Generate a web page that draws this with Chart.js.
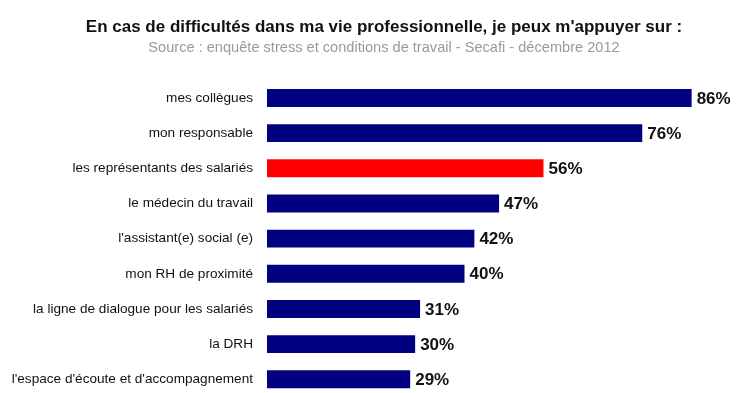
<!DOCTYPE html>
<html>
<head>
<meta charset="utf-8">
<script src="https://cdn.jsdelivr.net/npm/chart.js@4/dist/chart.umd.min.js"></script>
<style>
  html, body { margin: 0; padding: 0; background: #fff; overflow: hidden; }
  #wrap { width: 742px; height: 393px; overflow: hidden; }
  #wrap canvas { display: block; }
</style>
</head>
<body>
<div id="wrap"><canvas id="chart" width="742" height="419"></canvas></div>
<script>
const categories = [
    'mes collègues',
    'mon responsable',
    'les représentants des salariés',
    'le médecin du travail',
    "l'assistant(e) social (e)",
    'mon RH de proximité',
    'la ligne de dialogue pour les salariés',
    'la DRH',
    "l'espace d'écoute et d'accompagnement"
];
const values = [86, 76, 56, 47, 42, 40, 31, 30, 29];
const highlighted = 'les représentants des salariés';

const labelFont = "'Liberation Sans', Arial, sans-serif";

// value labels at the end of each bar
const barValueLabels = {
    id: 'barValueLabels',
    afterDatasetsDraw(chart) {
        const ctx = chart.ctx;
        const meta = chart.getDatasetMeta(0);
        ctx.save();
        ctx.font = "bold 17px 'Liberation Sans', Arial, sans-serif";
        ctx.fillStyle = '#111';
        ctx.textAlign = 'left';
        ctx.textBaseline = 'middle';
        meta.data.forEach((bar, i) => {
            ctx.fillText(values[i] + '%', bar.x + 5, bar.y + 1);
        });
        ctx.restore();
    }
};

new Chart(document.getElementById('chart'), {
    type: 'bar',
    data: {
        labels: categories,
        datasets: [{
            data: values,
            backgroundColor: categories.map(c => c === highlighted ? '#FF0000' : '#000080'),
            borderWidth: 0,
            barPercentage: 0.51,
            categoryPercentage: 1
        }]
    },
    options: {
        indexAxis: 'y',
        responsive: false,
        animation: false,
        layout: {
            // negative right padding pushes the title centre to the right, like the original
            padding: { left: 0, right: -26, top: 0, bottom: 0 }
        },
        plugins: {
            legend: { display: false },
            tooltip: { enabled: false },
            title: {
                display: true,
                text: "En cas de difficultés dans ma vie professionnelle, je peux m'appuyer sur :",
                color: '#111',
                font: { family: "'Liberation Sans', Arial, sans-serif", size: 17, weight: 'bold' },
                padding: { top: 17.5, bottom: 1 }
            },
            subtitle: {
                display: true,
                text: 'Source : enquête stress et conditions de travail - Secafi - décembre 2012',
                color: '#9a9a9a',
                font: { family: labelFont, size: 14.6, weight: 'normal' },
                padding: { top: 0, bottom: 24 }
            }
        },
        scales: {
            x: {
                display: false,
                min: 0,
                max: 96.2
            },
            y: {
                grid: { display: false, drawTicks: false },
                border: { display: false },
                ticks: {
                    color: '#111',
                    padding: 14,
                    font: { family: labelFont, size: 13.6 }
                },
                afterFit(scale) {
                    scale.width = 267;
                }
            }
        }
    },
    plugins: [barValueLabels]
});
</script>
</body>
</html>
